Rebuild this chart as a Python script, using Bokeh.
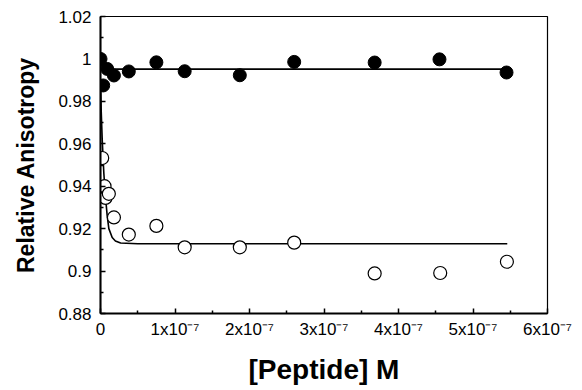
from bokeh.plotting import figure
from bokeh.models import ColumnDataSource, FixedTicker, CustomJSTickFormatter, Range1d
from bokeh.embed import file_html
from bokeh.resources import INLINE

# Filled circles (upper series)
filled_x = [0.0, 3.6e-9, 9e-9, 1.8e-8, 3.8e-8, 7.5e-8, 1.13e-7, 1.87e-7, 2.6e-7, 3.68e-7, 4.55e-7, 5.45e-7]
filled_y = [1.000, 0.9875, 0.9953, 0.9922, 0.9941, 0.9984, 0.9942, 0.9923, 0.9986, 0.9983, 0.9998, 0.9936]

# Open circles (lower series)
open_x = [2.3e-9, 5.4e-9, 6.7e-9, 1.12e-8, 1.8e-8, 3.8e-8, 7.5e-8, 1.13e-7, 1.87e-7, 2.6e-7, 3.68e-7, 4.56e-7, 5.455e-7]
open_y = [0.9533, 0.9400, 0.9345, 0.9364, 0.9253, 0.9172, 0.9213, 0.9112, 0.9112, 0.9134, 0.8989, 0.8991, 0.9044]

# Fitted curves
fit_filled_x = [0.0, 2e-9, 5e-9, 1e-8, 5.45e-7]
fit_filled_y = [1.000, 0.9965, 0.9953, 0.9952, 0.9952]

fit_open_x = [0.0, 1e-9, 2.3e-9, 4.5e-9, 6.7e-9, 9e-9, 1.12e-8, 1.57e-8, 2e-8, 2.7e-8, 5e-8, 5.46e-7]
fit_open_y = [0.990, 0.975, 0.962, 0.946, 0.935, 0.926, 0.920, 0.9158, 0.9142, 0.9132, 0.9129, 0.9129]

x_ticks = [0, 1e-7, 2e-7, 3e-7, 4e-7, 5e-7, 6e-7]
x_minor = [0.5e-7, 1.5e-7, 2.5e-7, 3.5e-7, 4.5e-7, 5.5e-7]
y_ticks = [0.88, 0.90, 0.92, 0.94, 0.96, 0.98, 1.00, 1.02]
y_minor = [0.89, 0.91, 0.93, 0.95, 0.97, 0.99, 1.01]

FONT = "Liberation Sans"

p = figure(width=582, height=390, output_backend="svg", toolbar_location=None,
           x_range=Range1d(0, 6e-7), y_range=Range1d(0.88, 1.02),
           min_border_left=100, min_border_right=35, min_border_top=16, min_border_bottom=77)
p.xgrid.visible = False
p.ygrid.visible = False
p.outline_line_color = "black"
p.outline_line_width = 1.2
p.background_fill_color = "white"
p.border_fill_color = "white"

p.line(fit_filled_x, fit_filled_y, line_color="black", line_width=1.6)
p.line(fit_open_x, fit_open_y, line_color="black", line_width=1.6)

p.scatter(source=ColumnDataSource(dict(x=filled_x, y=filled_y)), x="x", y="y",
          size=13, fill_color="black", line_color="black")
p.scatter(source=ColumnDataSource(dict(x=open_x, y=open_y)), x="x", y="y",
          size=13, fill_color="white", line_color="black", line_width=1.2)

xa = p.xaxis[0]
xa.ticker = FixedTicker(ticks=x_ticks, minor_ticks=x_minor)
xa.formatter = CustomJSTickFormatter(code="""
    const n = Math.round(tick / 1e-7);
    if (n == 0) return '0';
    return n + 'x10\u207B\u2077';
""")
xa.axis_label = "[Peptide] M"
xa.axis_label_text_font = FONT
xa.axis_label_text_font_style = "bold"
xa.axis_label_text_font_size = "28px"
xa.axis_label_text_color = "black"
xa.axis_label_standoff = 12
xa.major_label_text_font = FONT
xa.major_label_text_font_size = "17px"
xa.major_label_text_color = "black"
xa.major_label_standoff = 6
xa.axis_line_width = 2
xa.axis_line_color = "black"
xa.major_tick_in = 5
xa.major_tick_out = 0
xa.minor_tick_in = 3
xa.minor_tick_out = 0
xa.major_tick_line_width = 1.5
xa.minor_tick_line_width = 1.5
xa.major_tick_line_color = "black"
xa.minor_tick_line_color = "black"

ya = p.yaxis[0]
ya.ticker = FixedTicker(ticks=y_ticks, minor_ticks=y_minor)
ya.formatter = CustomJSTickFormatter(code="return String(parseFloat(tick.toFixed(2)));")
ya.axis_label = "Relative Anisotropy"
ya.axis_label_text_font = FONT
ya.axis_label_text_font_style = "bold"
ya.axis_label_text_font_size = "23px"
ya.axis_label_text_color = "black"
ya.axis_label_standoff = 16
ya.major_label_text_font = FONT
ya.major_label_text_font_size = "17px"
ya.major_label_text_color = "black"
ya.major_label_standoff = 9
ya.axis_line_width = 2
ya.axis_line_color = "black"
ya.major_tick_in = 5
ya.major_tick_out = 0
ya.minor_tick_in = 3
ya.minor_tick_out = 0
ya.major_tick_line_width = 1.5
ya.minor_tick_line_width = 1.5
ya.major_tick_line_color = "black"
ya.minor_tick_line_color = "black"

open("out.html", "w").write(file_html(p, INLINE))
